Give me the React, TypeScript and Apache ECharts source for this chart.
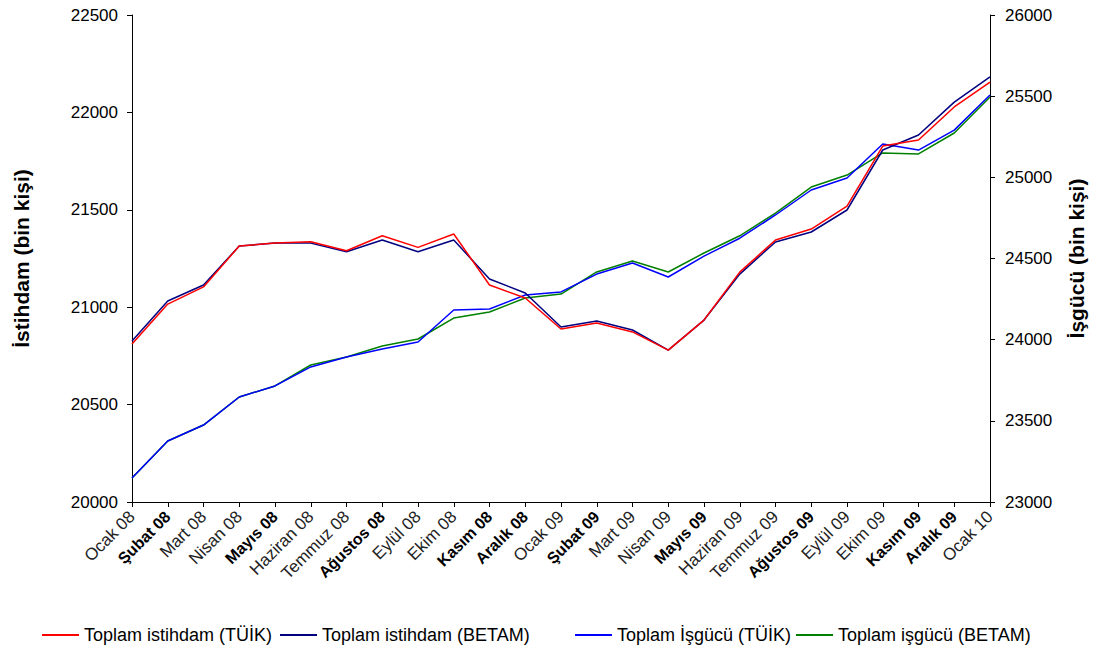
import React, { useEffect, useRef } from "react";
import * as echarts from "echarts";

const categories = [
  "Ocak 08", "Şubat 08", "Mart 08", "Nisan 08", "Mayıs 08", "Haziran 08", "Temmuz 08",
  "Ağustos 08", "Eylül 08", "Ekim 08", "Kasım 08", "Aralık 08",
  "Ocak 09", "Şubat 09", "Mart 09", "Nisan 09", "Mayıs 09", "Haziran 09", "Temmuz 09",
  "Ağustos 09", "Eylül 09", "Ekim 09", "Kasım 09", "Aralık 09", "Ocak 10",
];
const boldLabels = [
  "Şubat 08", "Mayıs 08", "Ağustos 08", "Kasım 08", "Aralık 08",
  "Şubat 09", "Mayıs 09", "Ağustos 09", "Kasım 09", "Aralık 09",
];

const istihdamTuik = [
  20811, 21016, 21104, 21314, 21329, 21336, 21290, 21367, 21307, 21376, 21114, 21047,
  20888, 20919, 20873, 20780, 20934, 21180, 21345, 21401, 21519, 21827, 21858, 22028, 22156,
];
const istihdamBetam = [
  20826, 21032, 21114, 21314, 21329, 21329, 21285, 21345, 21285, 21345, 21145, 21073,
  20898, 20929, 20883, 20780, 20934, 21170, 21335, 21386, 21499, 21807, 21884, 22053, 22182,
];
const isgucuTuik = [
  23148, 23376, 23474, 23647, 23715, 23832, 23893, 23942, 23986, 24183, 24189, 24275,
  24294, 24404, 24472, 24386, 24515, 24625, 24768, 24922, 24996, 25205, 25168, 25291, 25507,
];
const isgucuBetam = [
  23148, 23376, 23474, 23647, 23715, 23844, 23893, 23961, 24004, 24133, 24170, 24257,
  24281, 24417, 24485, 24417, 24534, 24640, 24780, 24940, 25014, 25150, 25144, 25273, 25495,
];

const seriesNames = [
  "Toplam istihdam (TÜİK)",
  "Toplam istihdam (BETAM)",
  "Toplam İşgücü (TÜİK)",
  "Toplam işgücü (BETAM)",
];
const colors = ["#ff0000", "#000080", "#0000ff", "#008000"];
const legendLefts = [37, 275, 570, 791];

const FONT = "'Liberation Sans', Arial, sans-serif";

export default function App() {
  const ref = useRef<HTMLDivElement>(null);
  useEffect(() => {
    if (!ref.current) return;
    const chart = echarts.init(ref.current, null, { renderer: "svg" });
    const mk = (i: number, data: number[], yAxisIndex: number) => ({
      name: seriesNames[i],
      type: "line",
      data,
      yAxisIndex,
      symbol: "none",
      lineStyle: { color: colors[i], width: 1.5 },
      itemStyle: { color: colors[i] },
      z: 10 - i,
    });
    chart.setOption({
      animation: false,
      backgroundColor: "#ffffff",
      textStyle: { fontFamily: FONT },
      grid: { left: 132, right: 107, top: 15, bottom: 147, containLabel: false },
      legend: seriesNames.map((n, i) => ({
        left: legendLefts[i],
        top: 621,
        icon: "rect",
        itemWidth: 37,
        itemHeight: 2,
        textStyle: { fontSize: 18, color: "#000", fontFamily: FONT },
        data: [n],
      })),
      xAxis: {
        type: "category",
        data: categories,
        boundaryGap: false,
        axisLine: { lineStyle: { color: "#000", width: 1 } },
        axisTick: { show: true, length: 5, interval: 0, lineStyle: { color: "#000" } },
        axisLabel: {
          interval: 0,
          rotate: 45,
          margin: 12,
          color: "#222",
          formatter: (v: string) => (boldLabels.includes(v) ? `{b|${v}}` : `{r|${v}}`),
          rich: {
            b: { fontSize: 16, fontWeight: "bold", color: "#000", fontFamily: FONT },
            r: { fontSize: 17, color: "#222", fontFamily: FONT },
          },
        },
        splitLine: { show: false },
      },
      yAxis: [
        {
          type: "value",
          min: 20000,
          max: 22500,
          interval: 500,
          position: "left",
          name: "İstihdam (bin kişi)",
          nameLocation: "middle",
          nameGap: 100,
          nameTextStyle: { fontSize: 21, fontWeight: "bold", color: "#000", fontFamily: FONT },
          axisLine: { show: true, lineStyle: { color: "#000", width: 1 } },
          axisTick: { show: true, length: 5, lineStyle: { color: "#000" } },
          axisLabel: {
            fontSize: 17,
            color: "#000",
            margin: 14,
            fontFamily: FONT,
            formatter: (v: number) => String(v),
          },
          splitLine: { show: false },
        },
        {
          type: "value",
          min: 23000,
          max: 26000,
          interval: 500,
          position: "right",
          name: "İşgücü (bin kişi)",
          nameLocation: "middle",
          nameGap: 76,
          nameTextStyle: { fontSize: 21, fontWeight: "bold", color: "#000", fontFamily: FONT },
          axisLine: { show: true, lineStyle: { color: "#000", width: 1 } },
          axisTick: { show: true, length: 5, lineStyle: { color: "#000" } },
          axisLabel: {
            fontSize: 17,
            color: "#000",
            margin: 15,
            fontFamily: FONT,
            formatter: (v: number) => String(v),
          },
          splitLine: { show: false },
        },
      ],
      series: [
        mk(0, istihdamTuik, 0),
        mk(1, istihdamBetam, 0),
        mk(2, isgucuTuik, 1),
        mk(3, isgucuBetam, 1),
      ],
    });
    return () => chart.dispose();
  }, []);
  return (
    <div
      ref={ref}
      style={{ position: "fixed", left: 0, top: 0, width: 1097, height: 649 }}
    />
  );
}
